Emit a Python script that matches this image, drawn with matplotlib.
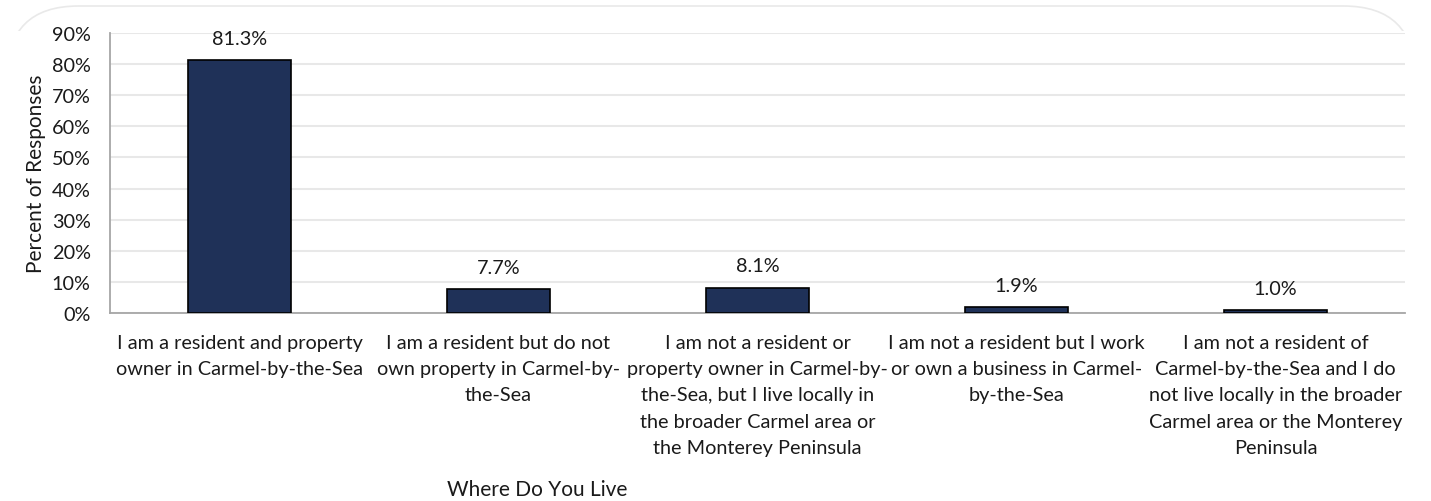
import matplotlib
matplotlib.use("Agg")
import matplotlib.pyplot as plt
from matplotlib.patches import FancyBboxPatch
from matplotlib.transforms import Bbox
from matplotlib.ticker import PercentFormatter

categories = [
    "I am a resident and property\nowner in Carmel-by-the-Sea",
    "I am a resident but do not\nown property in Carmel-by-\nthe-Sea",
    "I am not a resident or\nproperty owner in Carmel-by-\nthe-Sea, but I live locally in\nthe broader Carmel area or\nthe Monterey Peninsula",
    "I am not a resident but I work\nor own a business in Carmel-\nby-the-Sea",
    "I am not a resident of\nCarmel-by-the-Sea and I do\nnot live locally in the broader\nCarmel area or the Monterey\nPeninsula",
]
percent_responses = [81.3, 7.7, 8.1, 1.9, 1.0]
y_ticks = [0, 10, 20, 30, 40, 50, 60, 70, 80, 90]

plt.rcParams["font.family"] = ["Lato", "DejaVu Sans"]
FS = 14.3
TXT = "#1a1a1a"

W, H = 1431, 502
fig = plt.figure(figsize=(W / 100, H / 100), dpi=100)
fig.patch.set_facecolor("white")

# soft rounded card edge, visible only along the top
card = FancyBboxPatch((7 / W, -0.2), (1408 / W), 1.2 - 7 / H,
                      boxstyle="round,pad=0,rounding_size=0.05",
                      transform=fig.transFigure, facecolor="none",
                      edgecolor="#e9e9e9", linewidth=1.2, mutation_aspect=W / H)
card.set_clip_box(Bbox.from_extents(0, H - 32, W, H))
fig.patches.append(card)

ax = fig.add_axes([110 / W, 1 - 314 / H, 1295 / W, 280 / H])
x = range(len(categories))
ax.bar(x, percent_responses, width=0.40, color="#1f3158",
       edgecolor="black", linewidth=1.2, zorder=3)

for xi, v in zip(x, percent_responses):
    ax.text(xi, v + 4.3, f"{v:.1f}%", ha="center", va="bottom",
            fontsize=FS, color=TXT)

ax.set_ylim(0, 90)
ax.set_xlim(-0.5, len(categories) - 0.5)
ax.set_yticks(y_ticks)
ax.yaxis.set_major_formatter(PercentFormatter(decimals=0))
ax.grid(axis="y", color="#e8e8e8", linewidth=1.5, zorder=0)
ax.set_axisbelow(True)

ax.set_xticks(list(x))
ax.set_xticklabels(categories, fontsize=FS, color=TXT, linespacing=1.66,
                   va="top")
ax.tick_params(axis="both", length=0, labelsize=FS, colors=TXT)
ax.tick_params(axis="x", pad=15)
ax.tick_params(axis="y", pad=14)

for side in ("top", "right"):
    ax.spines[side].set_visible(False)
for side in ("left", "bottom"):
    ax.spines[side].set_color("#a6a6a6")
    ax.spines[side].set_linewidth(1.3)

ax.set_ylabel("Percent of Responses", fontsize=15, color=TXT, labelpad=4)
fig.text(537 / W, 1 - 490 / H, "Where Do You Live", ha="center", va="center",
         fontsize=15, color=TXT)

fig.savefig("out.png", dpi=100, facecolor="white")
